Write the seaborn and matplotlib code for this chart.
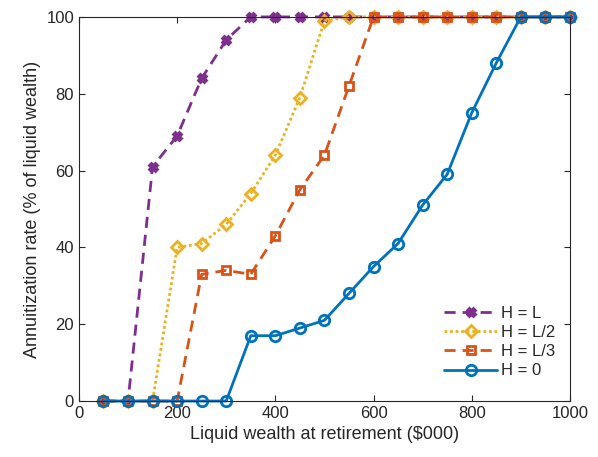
import numpy as np
import pandas as pd
import matplotlib
matplotlib.use("Agg")
import matplotlib.pyplot as plt
import seaborn as sns

wealth = [50, 100, 150, 200, 250, 300, 350, 400, 450, 500,
          550, 600, 650, 700, 750, 800, 850, 900, 950, 1000]
h_L = [0, 0, 61, 69, 84, 94, 100, 100, 100, 100,
       100, 100, 100, 100, 100, 100, 100, 100, 100, 100]
h_L2 = [0, 0, 0, 40, 41, 46, 54, 64, 79, 99,
        100, 100, 100, 100, 100, 100, 100, 100, 100, 100]
h_L3 = [0, 0, 0, 0, 33, 34, 33, 43, 55, 64,
        82, 100, 100, 100, 100, 100, 100, 100, 100, 100]
h_0 = [0, 0, 0, 0, 0, 0, 17, 17, 19, 21,
       28, 35, 41, 51, 59, 75, 88, 100, 100, 100]
labels = ["H = L", "H = L/2", "H = L/3", "H = 0"]

sns.set_theme(style="white")
plt.rcParams['font.family'] = ['Liberation Sans', 'DejaVu Sans']

fig = plt.figure(figsize=(5.98, 4.57), dpi=100)
ax = fig.add_axes([0.132, 0.1225, 0.821, 0.8405])

series = [h_L, h_L2, h_L3, h_0]
colors = ["#7E2F8E", "#EDB120", "#D95319", "#0072BD"]
markers = ["X", "D", "s", "o"]
styles = [(0, (4, 2.5)), (0, (1, 1)), (0, (4, 2.5)), "-"]
msizes = [5.5, 6.5, 5.5, 7.5]

for vals, lab, c, m, ls, ms in zip(series, labels, colors, markers, styles, msizes):
    df = pd.DataFrame({"x": wealth, "y": vals})
    fill = "full" if m == "X" else "none"
    sns.lineplot(data=df, x="x", y="y", ax=ax, color=c, linestyle=ls, lw=2,
                 marker=m, markersize=ms, markeredgewidth=2, fillstyle=fill,
                 markeredgecolor=c, label=lab)

ax.set_xlim(0, 1000)
ax.set_ylim(0, 100)
ax.set_xticks(np.arange(0, 1001, 200))
ax.set_yticks(np.arange(0, 101, 20))
ax.set_xlabel("Liquid wealth at retirement ($000)", fontsize=13)
ax.set_ylabel("Annuitization rate (% of liquid wealth)", fontsize=13)
ax.tick_params(direction="in", length=4, width=0.8, labelsize=12,
               top=True, right=True, bottom=True, left=True, color="#262626",
               labelcolor="#262626")
for s in ax.spines.values():
    s.set_color("#262626")
    s.set_linewidth(0.8)
for line in ax.lines:
    line.set_clip_on(False)

leg = ax.legend(loc="lower right", frameon=False, fontsize=12, handlelength=3.2,
                handletextpad=0.2, labelspacing=0.25, bbox_to_anchor=(1.0, 0.02))

fig.savefig("out.png", dpi=100)
